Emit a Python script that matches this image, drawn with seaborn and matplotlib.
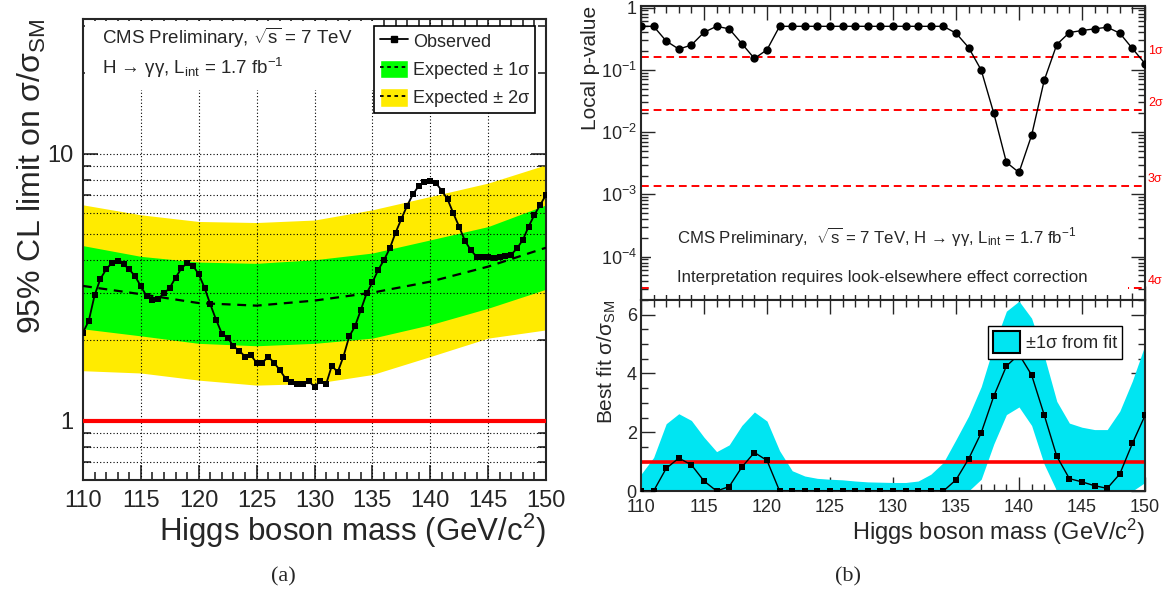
import numpy as np
import pandas as pd
import matplotlib
matplotlib.use('Agg')
import matplotlib.pyplot as plt
import matplotlib.transforms as mtransforms
import seaborn as sns
from matplotlib.patches import Patch, Rectangle
from matplotlib.lines import Line2D
from matplotlib.ticker import (FixedLocator, LogLocator, MultipleLocator,
                               NullFormatter, FuncFormatter)

# ---- data ----
# (a) observed 95% CL limit, 0.5 GeV steps
mass_obs = [110.0, 110.5, 111.0, 111.5, 112.0, 112.5, 113.0, 113.5, 114.0, 114.5,
            115.0, 115.5, 116.0, 116.5, 117.0, 117.5, 118.0, 118.5, 119.0, 119.5,
            120.0, 120.5, 121.0, 121.5, 122.0, 122.5, 123.0, 123.5, 124.0, 124.5,
            125.0, 125.5, 126.0, 126.5, 127.0, 127.5, 128.0, 128.5, 129.0, 129.5,
            130.0, 130.5, 131.0, 131.5, 132.0, 132.5, 133.0, 133.5, 134.0, 134.5,
            135.0, 135.5, 136.0, 136.5, 137.0, 137.5, 138.0, 138.5, 139.0, 139.5,
            140.0, 140.5, 141.0, 141.5, 142.0, 142.5, 143.0, 143.5, 144.0, 144.5,
            145.0, 145.5, 146.0, 146.5, 147.0, 147.5, 148.0, 148.5, 149.0, 149.5,
            150.0]
limit_obs = [2.14, 2.37, 2.95, 3.40, 3.69, 3.91, 3.98, 3.86, 3.69, 3.48,
             3.19, 2.93, 2.83, 2.87, 3.00, 3.15, 3.44, 3.72, 3.91, 3.81,
             3.54, 3.15, 2.73, 2.39, 2.12, 2.05, 1.90, 1.83, 1.74, 1.76,
             1.65, 1.65, 1.74, 1.65, 1.55, 1.44, 1.40, 1.37, 1.37, 1.41,
             1.34, 1.41, 1.37, 1.61, 1.52, 1.74, 2.07, 2.26, 2.60, 3.00,
             3.30, 3.67, 4.00, 4.42, 5.06, 5.70, 6.39, 7.05, 7.58, 7.87,
             7.94, 7.76, 7.28, 6.75, 5.98, 5.33, 4.72, 4.36, 4.12, 4.09,
             4.09, 4.08, 4.12, 4.15, 4.19, 4.43, 4.76, 5.34, 5.91, 6.44,
             7.02]

# (a) expected limit and bands
mass_exp = [110, 115, 120, 125, 130, 135, 140, 145, 150]
exp_median = [3.20, 2.98, 2.76, 2.70, 2.82, 3.02, 3.32, 3.78, 4.45]
exp_lo1 = [2.21, 2.08, 1.95, 1.91, 1.95, 2.04, 2.29, 2.64, 3.11]
exp_hi1 = [4.53, 4.13, 3.93, 3.89, 4.01, 4.25, 4.76, 5.34, 6.44]
exp_lo2 = [1.54, 1.51, 1.42, 1.36, 1.38, 1.49, 1.74, 2.04, 2.19]
exp_hi2 = [6.44, 5.91, 5.58, 5.53, 5.65, 6.17, 6.92, 7.77, 9.10]

# (b) 1 GeV steps
mass_fit = [110, 111, 112, 113, 114, 115, 116, 117, 118, 119, 120,
            121, 122, 123, 124, 125, 126, 127, 128, 129, 130,
            131, 132, 133, 134, 135, 136, 137, 138, 139, 140,
            141, 142, 143, 144, 145, 146, 147, 148, 149, 150]
pvalue = [0.5, 0.5, 0.29, 0.215, 0.25, 0.40, 0.5, 0.455, 0.264, 0.152, 0.21,
          0.5, 0.5, 0.5, 0.5, 0.5, 0.5, 0.5, 0.5, 0.5, 0.5,
          0.5, 0.5, 0.5, 0.5, 0.388, 0.228, 0.099, 0.020, 0.00326, 0.00224,
          0.00885, 0.0675, 0.255, 0.397, 0.428, 0.455, 0.483, 0.388, 0.22, 0.126]
best_fit = [0, 0, 0.77, 1.12, 0.89, 0.34, 0, 0.15, 0.81, 1.31, 1.04,
            0, 0, 0, 0, 0, 0, 0, 0, 0, 0,
            0, 0, 0, 0, 0.38, 1.09, 1.98, 3.23, 4.25, 4.65,
            3.95, 2.59, 1.18, 0.42, 0.31, 0.18, 0.09, 0.58, 1.62, 2.57]
fit_hi = [0.57, 1.14, 2.29, 2.63, 2.40, 1.83, 1.34, 1.57, 2.23, 2.69, 2.38,
          1.37, 0.69, 0.51, 0.43, 0.40, 0.38, 0.34, 0.31, 0.30, 0.29,
          0.29, 0.34, 0.57, 0.97, 1.75, 2.55, 3.55, 4.95, 6.12, 6.46,
          5.88, 4.60, 3.05, 2.31, 2.17, 2.09, 2.09, 2.72, 3.75, 4.97]
fit_lo = [0, 0, 0, 0, 0, 0, 0, 0, 0, 0, 0,
          0, 0, 0, 0, 0, 0, 0, 0, 0, 0,
          0, 0, 0, 0, 0, 0, 0.40, 1.60, 2.60, 2.86,
          2.23, 0.91, 0, 0, 0, 0, 0, 0, 0, 0.29]

sigma_p = [0.1587, 0.02275, 0.00135, 3.17e-5]
sigma_lab = ['1σ', '2σ', '3σ', '4σ']

obs = pd.DataFrame({'mass': mass_obs, 'limit': limit_obs})
fit = pd.DataFrame({'mass': mass_fit, 'p': pvalue, 'mu': best_fit})

GREEN = '#00ff00'
YELLOW = '#ffeb00'
CYAN = '#00e5f2'

sns.set_theme(style='ticks')
plt.rcParams['font.family'] = ['Liberation Sans', 'DejaVu Sans']
plt.rcParams['mathtext.fontset'] = 'custom'
plt.rcParams['mathtext.rm'] = 'Liberation Sans'
plt.rcParams['mathtext.it'] = 'Liberation Sans:italic'
plt.rcParams['axes.linewidth'] = 1.5

fig = plt.figure(figsize=(11.69, 5.95), dpi=100)
W, H = 1169, 595
ax = fig.add_axes([83 / W, 1 - 480 / H, 463 / W, 461 / H])
ax_p = fig.add_axes([641 / W, 1 - 300 / H, 504 / W, 294 / H])
ax_m = fig.add_axes([641 / W, 1 - 491 / H, 504 / W, 191 / H])

grid_kw = dict(color='black', lw=0.8, ls=(0, (1, 2)), zorder=2.5)

# ---------------- (a) ----------------
ax.set_yscale('log')
ax.fill_between(mass_exp, exp_lo2, exp_hi2, color=YELLOW, lw=0, zorder=1)
ax.fill_between(mass_exp, exp_lo1, exp_hi1, color=GREEN, lw=0, zorder=1.5)
for v in [0.7, 0.8, 0.9, 2, 3, 4, 5, 6, 7, 8, 9, 10]:
    ax.axhline(v, **grid_kw)
for m in [115, 120, 125, 130, 135, 140, 145]:
    ax.axvline(m, **grid_kw)
ax.add_patch(Rectangle((0.004, 0.846), 0.636, 0.15, transform=ax.transAxes,
                       facecolor='white', edgecolor='none', zorder=3))
ax.plot(mass_exp, exp_median, color='black', lw=1.6, ls=(0, (4, 3)), zorder=3.5)
sns.lineplot(data=obs, x='mass', y='limit', ax=ax, color='black', lw=1.3,
             marker='s', markersize=5, markeredgewidth=0, zorder=4)
ax.axhline(1, color='#ff0000', lw=3, zorder=4.5)
ax.set_xlim(110, 150)
ax.set_ylim(0.6, 32)
ax.xaxis.set_major_locator(MultipleLocator(5))
ax.xaxis.set_minor_locator(MultipleLocator(1))
ax.yaxis.set_major_locator(FixedLocator([1, 10]))
ax.yaxis.set_minor_locator(LogLocator(subs=np.arange(2, 10)))
ax.yaxis.set_major_formatter(FuncFormatter(lambda v, p: f'{v:g}'))
ax.yaxis.set_minor_formatter(NullFormatter())
ax.tick_params(which='both', direction='in', top=True, right=True, width=1.2)
ax.tick_params(which='major', length=11, labelsize=17, pad=7)
ax.tick_params(which='minor', length=5.5)
ax.set_xlabel('Higgs boson mass (GeV/c$^{2}$)', fontsize=22.5, loc='right')
ax.xaxis.set_label_coords(1.0, -0.068)
ax.set_ylabel('95% CL limit on σ/σ$_{\\mathrm{SM}}$', fontsize=23, loc='top')
ax.yaxis.set_label_coords(-0.075, 1.0)
ax.text(0.042, 0.960, 'CMS Preliminary, $\\sqrt{\\mathrm{s}}$ = 7 TeV', transform=ax.transAxes,
        fontsize=13.5, va='center', ha='left', zorder=5)
ax.text(0.042, 0.893, 'H → γγ, L$_{\\mathrm{int}}$ = 1.7 fb$^{-1}$', transform=ax.transAxes,
        fontsize=13.5, va='center', ha='left', zorder=5)
handles = [Line2D([], [], color='black', lw=1.3, marker='s', markersize=5),
           (Patch(facecolor=GREEN), Line2D([], [], color='black', lw=1.3, ls=(0, (2, 2)))),
           (Patch(facecolor=YELLOW), Line2D([], [], color='black', lw=1.3, ls=(0, (2, 2))))]
leg = ax.legend(handles, ['Observed', 'Expected ± 1σ', 'Expected ± 2σ'],
                loc='upper right', bbox_to_anchor=(0.976, 0.985), fontsize=13,
                frameon=True, fancybox=False, framealpha=1, edgecolor='black',
                handlelength=1.55, handleheight=1.2, labelspacing=0.5,
                borderpad=0.3, handletextpad=0.3, borderaxespad=0)
leg.get_frame().set_linewidth(1.2)
leg.set_zorder(6)

# ---------------- (b) top: local p-value ----------------
ax_p.set_yscale('log')
for p, lab in zip(sigma_p, sigma_lab):
    ax_p.axhline(p, color='#ff0000', lw=1.4, ls=(0, (4, 2.5)), zorder=2)
    ax_p.text(1.006, p * 1.28, lab, color='#ff0000', fontsize=9, va='center', ha='left',
              transform=mtransforms.blended_transform_factory(ax_p.transAxes, ax_p.transData))
ax_p.add_patch(Rectangle((0.02, 0.017), 0.946, 0.27, transform=ax_p.transAxes,
                         facecolor='white', edgecolor='none', zorder=2.5))
sns.lineplot(data=fit, x='mass', y='p', ax=ax_p, color='black', lw=1.0,
             marker='o', markersize=6, markeredgewidth=0, zorder=3)
ax_p.set_xlim(110, 150)
ax_p.set_ylim(2e-5, 1.06)
ax_p.xaxis.set_major_locator(MultipleLocator(5))
ax_p.xaxis.set_minor_locator(MultipleLocator(1))
ax_p.yaxis.set_major_locator(LogLocator(base=10, numticks=10))
ax_p.yaxis.set_minor_locator(LogLocator(base=10, subs=np.arange(2, 10), numticks=10))
ax_p.yaxis.set_major_formatter(FuncFormatter(
    lambda v, p: '1' if abs(v - 1) < 1e-9 else f'10$^{{{int(round(np.log10(v)))}}}$'))
ax_p.yaxis.set_minor_formatter(NullFormatter())
ax_p.tick_params(which='both', direction='in', top=True, right=True, width=1.0,
                 labelbottom=False)
ax_p.tick_params(which='major', length=10, labelsize=13, pad=3)
ax_p.tick_params(which='minor', length=5)
ax_p.set_xlabel('')
ax_p.set_ylabel('Local p-value', fontsize=15, loc='top')
ax_p.yaxis.set_label_coords(-0.082, 1.0)
ax_p.text(0.072, 0.211, 'CMS Preliminary,  $\\sqrt{\\mathrm{s}}$ = 7 TeV, H → γγ, '
          'L$_{\\mathrm{int}}$ = 1.7 fb$^{-1}$', transform=ax_p.transAxes,
          fontsize=12.1, va='center', ha='left', zorder=4)
ax_p.text(0.072, 0.078, 'Interpretation requires look-elsewhere effect correction',
          transform=ax_p.transAxes, fontsize=12.2, va='center', ha='left', zorder=4)

# ---------------- (b) bottom: best fit ----------------
ax_m.fill_between(mass_fit, fit_lo, fit_hi, color=CYAN, lw=0, zorder=1)
ax_m.axhline(1, color='#ff0000', lw=2.6, zorder=2)
sns.lineplot(data=fit, x='mass', y='mu', ax=ax_m, color='black', lw=1.0,
             marker='s', markersize=5, markeredgewidth=0, zorder=3)
ax_m.set_xlim(110, 150)
ax_m.set_ylim(0, 6.5)
ax_m.xaxis.set_major_locator(MultipleLocator(5))
ax_m.xaxis.set_minor_locator(MultipleLocator(1))
ax_m.yaxis.set_major_locator(MultipleLocator(2))
ax_m.yaxis.set_minor_locator(MultipleLocator(0.5))
ax_m.tick_params(which='both', direction='in', top=True, right=True, width=1.0)
ax_m.tick_params(which='major', length=10, labelsize=13, pad=3)
ax_m.tick_params(axis='x', which='major', pad=6)
ax_m.tick_params(which='minor', length=5)
ax_m.set_xlabel('Higgs boson mass (GeV/c$^{2}$)', fontsize=17, loc='right')
ax_m.xaxis.set_label_coords(1.0, -0.135)
ax_m.set_ylabel('Best fit σ/σ$_{\\mathrm{SM}}$', fontsize=15, loc='top')
ax_m.yaxis.set_label_coords(-0.045, 1.0)
leg2 = ax_m.legend([Patch(facecolor=CYAN, edgecolor='black', lw=1.5)], ['±1σ from fit'],
                   loc='upper right', bbox_to_anchor=(0.955, 0.864), fontsize=13,
                   frameon=True, fancybox=False, framealpha=1, edgecolor='black',
                   handlelength=1.5, handleheight=1.5, borderpad=0.3,
                   handletextpad=0.3, borderaxespad=0)
leg2.get_frame().set_linewidth(1.0)

fig.text(283 / W, 1 - 577 / H, '(a)', ha='center', va='center', fontsize=16,
         family=['Liberation Serif', 'DejaVu Serif'])
fig.text(848 / W, 1 - 577 / H, '(b)', ha='center', va='center', fontsize=16,
         family=['Liberation Serif', 'DejaVu Serif'])

fig.savefig('out.png', dpi=100)
